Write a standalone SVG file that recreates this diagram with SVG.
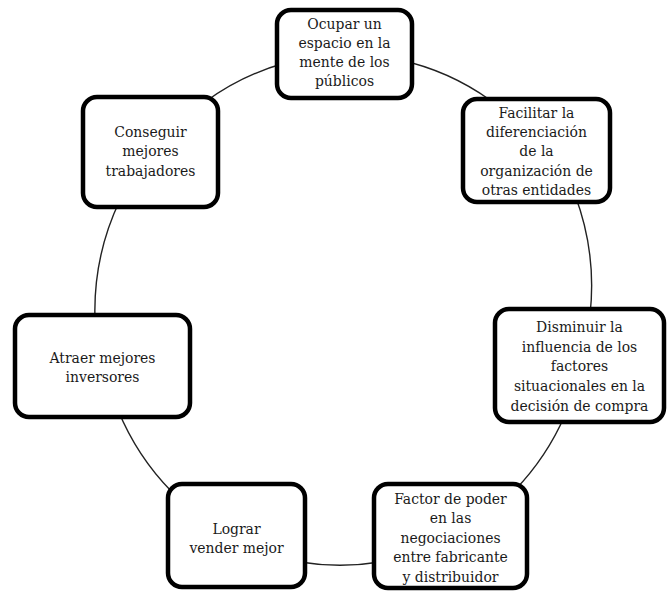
<svg xmlns="http://www.w3.org/2000/svg" width="667" height="591" viewBox="0 0 667 591">
<style>
.bg{fill:#ffffff}
.box{fill:#ffffff;stroke:#000000;stroke-width:4.5}
.conn{fill:none;stroke:#222222;stroke-width:1.4}
.t{font-family:"DejaVu Serif Condensed","DejaVu Serif","Liberation Serif",serif;font-stretch:condensed;font-size:15.5px;fill:#1a1a1a;text-anchor:middle}
</style>
<rect class="bg" x="0" y="0" width="667" height="591"/>
<g id="connectors">
<path class="conn" d="M400,60 A249,254 0 0 1 490,100"/>
<path class="conn" d="M575,195 A249,254 0 0 1 590,315"/>
<path class="conn" d="M565,415 A249,254 0 0 1 515,490"/>
<path class="conn" d="M380,562 A249,254 0 0 1 300,562"/>
<path class="conn" d="M172,492 A249,254 0 0 1 118,410"/>
<path class="conn" d="M95,320 A249,254 0 0 1 120,200"/>
<path class="conn" d="M205,102 A249,254 0 0 1 285,63"/>
</g>
<g id="n1">
<rect class="box" x="277" y="10" width="135" height="88" rx="14"/>
<text class="t" x="344.5" y="29">Ocupar un</text>
<text class="t" x="344.5" y="48">espacio en la</text>
<text class="t" x="344.5" y="67">mente de los</text>
<text class="t" x="344.5" y="86">públicos</text>
</g>
<g id="n2">
<rect class="box" x="463" y="99" width="147" height="103" rx="14"/>
<text class="t" x="536.5" y="118">Facilitar la</text>
<text class="t" x="536.5" y="137">diferenciación</text>
<text class="t" x="536.5" y="156">de la</text>
<text class="t" x="536.5" y="176">organización de</text>
<text class="t" x="536.5" y="195">otras entidades</text>
</g>
<g id="n3">
<rect class="box" x="495" y="309" width="169" height="113" rx="14"/>
<text class="t" x="579.5" y="332">Disminuir la</text>
<text class="t" x="579.5" y="352">influencia de los</text>
<text class="t" x="579.5" y="371">factores</text>
<text class="t" x="579.5" y="391">situacionales en la</text>
<text class="t" x="579.5" y="411">decisión de compra</text>
</g>
<g id="n4">
<rect class="box" x="374" y="484" width="153" height="104" rx="14"/>
<text class="t" x="450.5" y="504">Factor de poder</text>
<text class="t" x="450.5" y="523">en las</text>
<text class="t" x="450.5" y="543">negociaciones</text>
<text class="t" x="450.5" y="562">entre fabricante</text>
<text class="t" x="450.5" y="582">y distribuidor</text>
</g>
<g id="n5">
<rect class="box" x="168" y="484" width="137" height="103" rx="14"/>
<text class="t" x="236.5" y="534">Lograr</text>
<text class="t" x="236.5" y="553">vender mejor</text>
</g>
<g id="n6">
<rect class="box" x="15" y="315" width="175" height="102" rx="14"/>
<text class="t" x="102.5" y="363">Atraer mejores</text>
<text class="t" x="102.5" y="382">inversores</text>
</g>
<g id="n7">
<rect class="box" x="83" y="97" width="135" height="110" rx="14"/>
<text class="t" x="150.5" y="137">Conseguir</text>
<text class="t" x="150.5" y="156">mejores</text>
<text class="t" x="150.5" y="176">trabajadores</text>
</g>
</svg>
